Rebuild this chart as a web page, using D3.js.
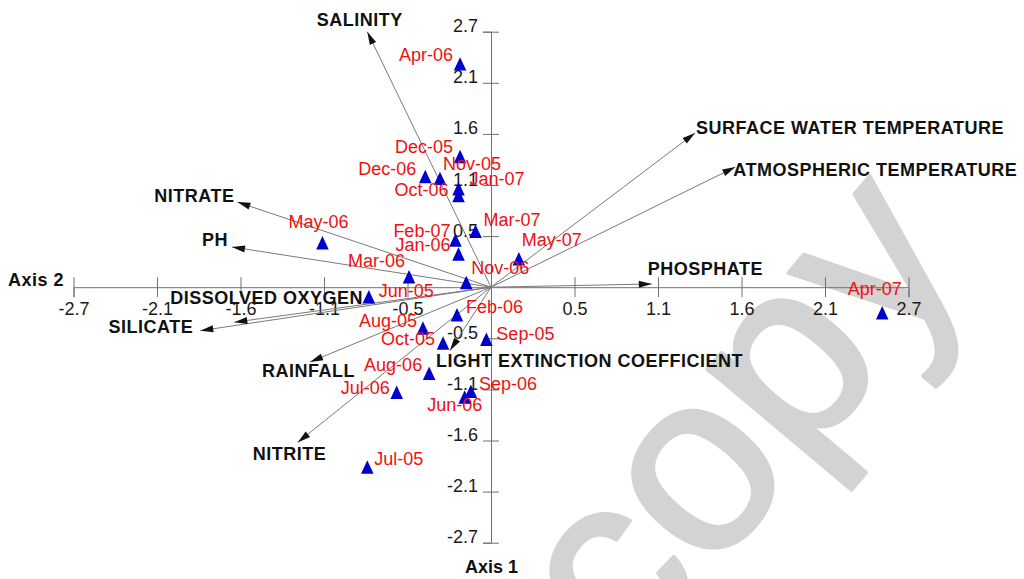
<!DOCTYPE html>
<html>
<head>
<meta charset="utf-8">
<script src="https://cdn.jsdelivr.net/npm/d3@7"></script>
<style>
  html, body { margin: 0; padding: 0; background: #fff; }
  svg { display: block; font-family: Arial, "Liberation Sans", sans-serif; }
</style>
</head>
<body>
<svg id="chart" width="1024" height="579"></svg>
<script>
// Monthly sample scores on the two ordination axes
const months = ["Jun-05","Jul-05","Aug-05","Sep-05","Oct-05","Nov-05","Dec-05",
  "Jan-06","Feb-06","Mar-06","Apr-06","May-06","Jun-06","Jul-06","Aug-06","Sep-06",
  "Oct-06","Nov-06","Dec-06","Jan-07","Feb-07","Mar-07","Apr-07","May-07"];
const monthAxis2 = [-0.79,-0.80,-0.44,-0.03,-0.31,-0.33,-0.20,
  -0.21,-0.22,-0.53,-0.20,-1.09,-0.17,-0.61,-0.40,-0.13,
  -0.21,-0.16,-0.425,-0.21,-0.23,-0.10,2.53,0.18];
const monthAxis1 = [-0.10,-1.90,-0.43,-0.55,-0.59,1.15,1.38,
  0.35,-0.29,0.11,2.36,0.47,-1.16,-1.11,-0.91,-1.10,
  0.97,0.05,1.17,1.04,0.50,0.59,-0.27,0.30];

// Environmental variables (biplot vectors)
const variables = ["SALINITY","SURFACE WATER TEMPERATURE","ATMOSPHERIC TEMPERATURE",
  "PHOSPHATE","NITRATE","PH","DISSOLVED OXYGEN","SILICATE","RAINFALL",
  "LIGHT EXTINCTION COEFFICIENT","NITRITE"];
const variableAxis2 = [-0.80,1.32,1.58,1.04,-1.64,-1.675,-1.66,-1.88,-1.17,-0.265,-1.25];
const variableAxis1 = [2.70,1.63,1.27,0.034,0.90,0.425,-0.37,-0.46,-0.79,-0.67,-1.64];

// Axis ticks
const tickValues = [-2.7,-2.16,-1.62,-1.08,-0.54,0.54,1.08,1.62,2.16,2.7];
const tickLabels = ["-2.7","-2.1","-1.6","-1.1","-0.5","0.5","1.1","1.6","2.1","2.7"];

// Label placement: [anchor, dx, dy] relative to the marker / arrow tip
const monthLabelPlacement = [
  ["start",10,0],["start",7,-2],["end",-6,-1],["start",10,1],["end",-8,2],
  ["start",3,-8],["end",-7,-4],["end",-8,-3],["start",9,-1.5],["end",-4,-10],
  ["end",-7,-3],["middle",-4,-15],["middle",-10,14],["end",-7,2],["end",-7,-2],
  ["start",8,-1],["end",-10,1],["start",5,-8],["end",-9,-1],["start",11,-4],
  ["end",-5,-3],["start",8,-5],["middle",-7.5,-18],["start",3,-13]];
const variableLabelPlacement = [
  ["middle",-7.5,-6],["start",1,1],["start",-2,9],["start",-4,-9],["end",-3,0],
  ["end",-4,-1],["start",-64,-18],["end",-7,2],["start",-48,15],["start",-14,16],
  ["start",-45,18]];

const svg = d3.select("#chart");

const x = d3.scaleLinear().domain([-2.7, 2.7]).range([73.5, 908.5]);
const y = d3.scaleLinear().domain([-2.7, 2.7]).range([542.7, 31.7]);
const x0 = x(0), y0 = y(0);

// Background watermark
svg.append("text")
  .attr("transform", "translate(627,675) rotate(-50)")
  .attr("font-size", 255)
  .attr("fill", "#d3d3d3")
  .attr("stroke", "#d3d3d3").attr("stroke-width", 4).attr("stroke-linejoin", "round")
  .text("copy");

const axisColor = "#707070";

// Horizontal axis (Axis 2)
const gx = svg.append("g")
  .attr("transform", `translate(0,${y0})`)
  .call(d3.axisBottom(x).tickValues(tickValues)
    .tickFormat((d, i) => tickLabels[i]).tickSizeOuter(0).tickSize(10));
gx.select(".domain").attr("stroke", axisColor);
gx.selectAll(".tick line").attr("y1", -10).attr("y2", 10).attr("stroke", axisColor);
gx.selectAll(".tick text").attr("y", 28).attr("dy", null)
  .attr("font-size", 18).attr("font-family", "Arial, 'Liberation Sans', sans-serif")
  .attr("fill", "#1a1a1a");

// Vertical axis (Axis 1)
const gy = svg.append("g")
  .attr("transform", `translate(${x0},0)`)
  .call(d3.axisLeft(y).tickValues(tickValues)
    .tickFormat((d, i) => tickLabels[i]).tickSizeOuter(0).tickSize(8));
gy.select(".domain").attr("stroke", axisColor);
gy.selectAll(".tick line").attr("x1", -8).attr("x2", 8).attr("stroke", axisColor);
gy.selectAll(".tick text").attr("x", -13).attr("dy", null)
  .attr("font-size", 18).attr("font-family", "Arial, 'Liberation Sans', sans-serif")
  .attr("fill", "#1a1a1a");

svg.append("text").attr("x", 8).attr("y", 286)
  .attr("font-size", 18).attr("font-weight", "bold").attr("fill", "#111")
  .attr("letter-spacing", 0.5)
  .text("Axis 2");
svg.append("text").attr("x", x0 + 0.5).attr("y", 573).attr("text-anchor", "middle")
  .attr("font-size", 18).attr("font-weight", "bold").attr("fill", "#111")
  .text("Axis 1");

// Environmental vectors
const vec = variables.map((name, i) => ({
  name, tx: x(variableAxis2[i]), ty: y(variableAxis1[i]), place: variableLabelPlacement[i]
}));
const vg = svg.append("g");
vg.selectAll("line").data(vec).join("line")
  .attr("x1", x0).attr("y1", y0)
  .attr("x2", d => d.tx).attr("y2", d => d.ty)
  .attr("stroke", "#7a7a7a").attr("stroke-width", 1);
vg.selectAll("path").data(vec).join("path")
  .attr("d", "M0,0L-13,-3.5L-13,3.5Z")
  .attr("fill", "#111")
  .attr("transform", d => {
    const a = Math.atan2(d.ty - y0, d.tx - x0) * 180 / Math.PI;
    return `translate(${d.tx},${d.ty}) rotate(${a})`;
  });
vg.selectAll("text").data(vec).join("text")
  .attr("x", d => d.tx + d.place[1]).attr("y", d => d.ty + d.place[2])
  .attr("text-anchor", d => d.place[0])
  .attr("font-size", 18).attr("font-weight", "bold")
  .attr("letter-spacing", 0.5).attr("fill", "#111")
  .text(d => d.name);

// Monthly samples
const triangle = {
  draw(ctx, size) {
    const h = Math.sqrt(size), w = h * 0.93;
    ctx.moveTo(0, -h / 2);
    ctx.lineTo(w / 2, h / 2);
    ctx.lineTo(-w / 2, h / 2);
    ctx.closePath();
  }
};
const pts = months.map((m, i) => ({
  m, px: x(monthAxis2[i]), py: y(monthAxis1[i]), place: monthLabelPlacement[i]
}));
const pg = svg.append("g");
pg.selectAll("path").data(pts).join("path")
  .attr("d", d3.symbol().type(triangle).size(182))
  .attr("transform", d => `translate(${d.px},${d.py})`)
  .attr("fill", "#0000cc");
pg.selectAll("text").data(pts).join("text")
  .attr("x", d => d.px + d.place[1]).attr("y", d => d.py + d.place[2])
  .attr("text-anchor", d => d.place[0])
  .attr("font-size", 18).attr("fill", "#ee1111")
  .text(d => d.m);
</script>
</body>
</html>
